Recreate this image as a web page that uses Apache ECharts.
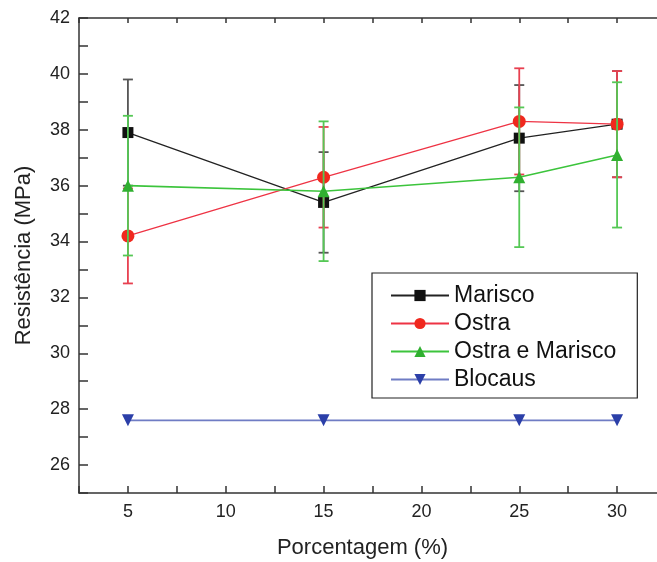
<!DOCTYPE html>
<html>
<head>
<meta charset="utf-8">
<script src="https://cdn.jsdelivr.net/npm/echarts@6/dist/echarts.min.js"></script>
<style>html,body{margin:0;padding:0;background:#fff;}#c{width:657px;height:562px;}</style>
</head>
<body>
<div id="c"></div>
<script>
const xValues = [5, 15, 25, 30];
const marisco = [37.9, 35.4, 37.7, 38.2];
const mariscoErr = [1.9, 1.8, 1.9, 1.9];
const ostra = [34.2, 36.3, 38.3, 38.2];
const ostraErr = [1.7, 1.8, 1.9, 1.9];
const ostraMarisco = [36.0, 35.8, 36.3, 37.1];
const ostraMariscoErr = [2.5, 2.5, 2.5, 2.6];
const blocaus = [27.6, 27.6, 27.6, 27.6];
const seriesNames = ['Marisco', 'Ostra', 'Ostra e Marisco', 'Blocaus'];
const xLabelTicks = [5, 10, 15, 20, 25, 30];
const yLabelTicks = [26, 28, 30, 32, 34, 36, 38, 40, 42];

function pts(vals) { return xValues.map((x, i) => [x, vals[i]]); }
function errs(vals, e) { return xValues.map((x, i) => [x, vals[i] - e[i], vals[i] + e[i]]); }

function errSeries(name, data, color, z) {
  return {
    type: 'custom', name: name + ' err', z: z, silent: true,
    renderItem: function (params, api) {
      const x = api.value(0), lo = api.value(1), hi = api.value(2);
      const a = api.coord([x, hi]), b = api.coord([x, lo]);
      const w = 5;
      const st = { stroke: color, lineWidth: 1.8 };
      return { type: 'group', children: [
        { type: 'line', shape: { x1: a[0], y1: a[1], x2: b[0], y2: b[1] }, style: st },
        { type: 'line', shape: { x1: a[0] - w, y1: a[1], x2: a[0] + w, y2: a[1] }, style: st },
        { type: 'line', shape: { x1: b[0] - w, y1: b[1], x2: b[0] + w, y2: b[1] }, style: st }
      ]};
    },
    encode: { x: 0, y: [1, 2] },
    data: data
  };
}

const axisCommon = {
  axisLine: { show: true, onZero: false, lineStyle: { color: '#333', width: 1.5 } },
  splitLine: { show: false }
};

const chart = echarts.init(document.getElementById('c'));
chart.setOption({
  animation: false,
  backgroundColor: '#fff',
  grid: { left: 79, top: 18, width: 587, height: 475, outerBoundsMode: 'none', containLabel: false },
  xAxis: [
    Object.assign({
      type: 'value', min: 2.5, max: 32.5, interval: 2.5,
      name: 'Porcentagem (%)', nameLocation: 'middle', nameGap: 44,
      nameTextStyle: { fontSize: 22, color: '#222', fontFamily: 'Liberation Sans', padding: [0, 20, 0, 0] },
      axisTick: { inside: true, length: 7, lineStyle: { color: '#333', width: 1.5 } },
      axisLabel: { fontSize: 18, color: '#222', fontFamily: 'Liberation Sans', margin: 10,
        formatter: v => xLabelTicks.indexOf(v) >= 0 ? String(v) : '' }
    }, axisCommon),
    Object.assign({
      type: 'value', min: 2.5, max: 32.5, interval: 2.5, position: 'top',
      axisTick: { inside: true, length: 5, lineStyle: { color: '#333', width: 1.5 } },
      axisLabel: { show: false }
    }, axisCommon)
  ],
  yAxis: [
    Object.assign({
      type: 'value', min: 25, max: 42, interval: 1,
      name: 'Resistência (MPa)', nameLocation: 'middle', nameGap: 44,
      nameTextStyle: { fontSize: 22, color: '#222', fontFamily: 'Liberation Sans' },
      axisTick: { inside: true, length: 9, lineStyle: { color: '#333', width: 1.5 } },
      axisLabel: { fontSize: 18, color: '#222', fontFamily: 'Liberation Sans', margin: 9,
        formatter: v => yLabelTicks.indexOf(v) >= 0 ? String(v) : '' }
    }, axisCommon)
  ],
  legend: {
    orient: 'vertical', left: 372, top: 273,
    data: seriesNames,
    itemWidth: 58, itemHeight: 14, itemGap: 5,
    padding: [11, 21, 7, 18],
    borderColor: '#222', borderWidth: 1.2, backgroundColor: '#fff',
    textStyle: { fontSize: 23, color: '#111', fontFamily: 'Liberation Sans' }
  },
  series: [
    errSeries('Marisco', errs(marisco, mariscoErr), '#555', 2),
    { type: 'line', name: 'Marisco', data: pts(marisco), symbol: 'rect', symbolSize: 11,
      itemStyle: { color: '#111' }, lineStyle: { color: '#222', width: 1.3 }, z: 3 },
    errSeries('Ostra', errs(ostra, ostraErr), '#e84050', 4),
    { type: 'line', name: 'Ostra', data: pts(ostra), symbol: 'circle', symbolSize: 13,
      itemStyle: { color: '#f0281e' }, lineStyle: { color: '#ee3344', width: 1.3 }, z: 5 },
    errSeries('Ostra e Marisco', errs(ostraMarisco, ostraMariscoErr), '#55c855', 6),
    { type: 'line', name: 'Ostra e Marisco', data: pts(ostraMarisco), symbol: 'triangle', symbolSize: 12,
      itemStyle: { color: '#30b030' }, lineStyle: { color: '#3cc43c', width: 1.6 }, z: 7 },
    { type: 'line', name: 'Blocaus', data: pts(blocaus), symbol: 'triangle', symbolRotate: 180, symbolSize: 12,
      itemStyle: { color: '#2b3fa8' }, lineStyle: { color: '#6f7cc4', width: 1.6 }, z: 8 }
  ]
});
</script>
</body>
</html>
